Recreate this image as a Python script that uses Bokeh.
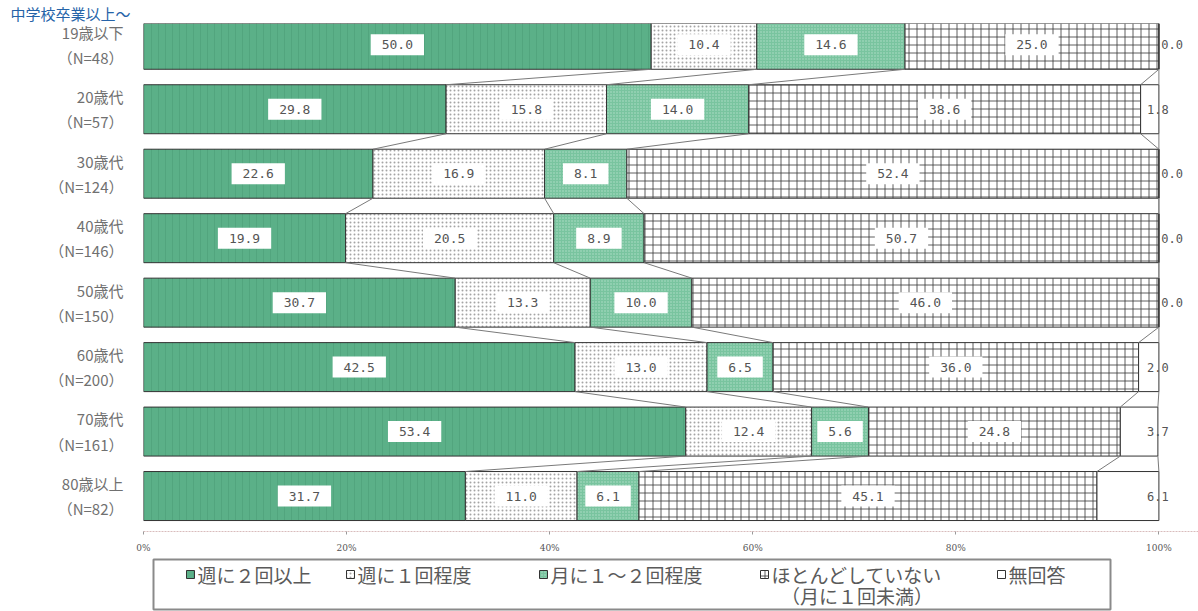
import numpy as np
import pandas as pd
from bokeh.plotting import figure
from bokeh.layouts import column
from bokeh.models import ColumnDataSource, Range1d, FixedTicker, Title
from bokeh.core.properties import value
from bokeh.embed import file_html
from bokeh.resources import INLINE

# ---------------- data ----------------
title_text = "中学校卒業以上～"
age_groups = ["19歳以下", "20歳代", "30歳代", "40歳代", "50歳代", "60歳代", "70歳代", "80歳以上"]
sample_sizes = [48, 57, 124, 146, 150, 200, 161, 82]
series_names = ["週に２回以上", "週に１回程度", "月に１～２回程度", "ほとんどしていない", "無回答"]
series_subnote = ["", "", "", "（月に１回未満）", ""]
twice_weekly = [50.0, 29.8, 22.6, 19.9, 30.7, 42.5, 53.4, 31.7]
once_weekly = [10.4, 15.8, 16.9, 20.5, 13.3, 13.0, 12.4, 11.0]
monthly = [14.6, 14.0, 8.1, 8.9, 10.0, 6.5, 5.6, 6.1]
rarely = [25.0, 38.6, 52.4, 50.7, 46.0, 36.0, 24.8, 45.1]
no_answer = [0.0, 1.8, 0.0, 0.0, 0.0, 2.0, 3.7, 6.1]
x_ticks = [0, 20, 40, 60, 80, 100]
x_tick_labels = ["0%", "20%", "40%", "60%", "80%", "100%"]

# ---------------- styles ----------------
styles = [
    dict(fill_color="#5bb088", hatch_pattern="vertical_line", hatch_color="#4c9f78",
         hatch_scale=7, hatch_weight=1, hatch_alpha=0.6),
    dict(fill_color="#ffffff", hatch_pattern="dot", hatch_color="#9a9a9a",
         hatch_scale=4, hatch_weight=1, hatch_alpha=0.9),
    dict(fill_color="#79c49f", hatch_pattern="dot", hatch_color="#d8f0e2",
         hatch_scale=3, hatch_weight=1, hatch_alpha=0.6),
    dict(fill_color="#ffffff", hatch_pattern="cross", hatch_color="#333333",
         hatch_scale=8, hatch_weight=0.8, hatch_alpha=1.0),
    dict(fill_color="#ffffff"),
]
FRAME_LEFT = 143
FRAME_W = 1055
# legend layout (page pixels)
legend_icon_x = [190, 350, 543, 764, 1001]
legend_box = dict(left=153, right=1110, top=4, bottom=54)
legend_line_y = [19, 40]

series = [twice_weekly, once_weekly, monthly, rarely, no_answer]
vals = np.array(series, dtype=float).T          # rows x series
n_rows = len(age_groups)
rows = np.arange(1, n_rows + 1)
cum_right = np.cumsum(vals, axis=1)
cum_left = cum_right - vals
bar_h = 0.76

p = figure(frame_width=FRAME_W, frame_height=508, output_backend="svg", toolbar_location=None,
           x_range=Range1d(0, 103.9), y_range=Range1d(8.55, 0.67),
           min_border_left=FRAME_LEFT, min_border_right=0, min_border_top=20, min_border_bottom=20,
           background_fill_color="white", border_fill_color="white")
p.outline_line_color = None
p.xgrid.visible = False
p.ygrid.visible = False

# title in the top-left corner
p.add_layout(Title(text=title_text, align="left", offset=-133, standoff=0,
                   text_font="Noto Sans CJK JP", text_font_size="15px",
                   text_font_style="normal", text_color="#2563a8"), "above")

for k in range(len(series)):
    src = ColumnDataSource(dict(y=rows, left=cum_left[:, k], right=cum_right[:, k]))
    p.hbar(y="y", left="left", right="right", height=bar_h, source=src,
           line_color="#333333", line_width=1, **styles[k])

# connector (series) lines between adjacent bars
x0s, y0s, x1s, y1s = [], [], [], []
for k in range(len(series)):
    for i in range(n_rows - 1):
        x0s.append(cum_right[i, k]); y0s.append(rows[i] + bar_h / 2)
        x1s.append(cum_right[i + 1, k]); y1s.append(rows[i + 1] - bar_h / 2)
p.segment(x0=x0s, y0=y0s, x1=x1s, y1=y1s, line_color="#7a7a7a", line_width=1)

# value labels with white boxes (first four series)
lx, ly, lt = [], [], []
for k in range(4):
    for i in range(n_rows):
        lx.append(cum_left[i, k] + vals[i, k] / 2)
        ly.append(rows[i])
        lt.append(f"{vals[i, k]:.1f}")
p.text(x=lx, y=ly, text=lt, text_align="center", text_baseline="middle",
       text_font=value("DejaVu Sans Mono"), text_font_size="13px", text_color="#555555",
       background_fill_color="white", padding=(11, 6))

# no-answer labels
na = vals[:, 4]
na_center = cum_left[:, 4] + na / 2
na_x = np.where(na == 0, 101.3, np.maximum(na_center, 99.9))
p.text(x=na_x, y=rows, text=[f"{v:.1f}" for v in na], text_align="center",
       text_baseline="middle", text_font=value("DejaVu Sans Mono"),
       text_font_size="12px", text_color="#555555")

# axes
p.xaxis.ticker = FixedTicker(ticks=x_ticks)
p.xaxis.major_label_overrides = {t: l for t, l in zip(x_ticks, x_tick_labels)}
p.xaxis.axis_line_color = "#d9bcbc"
p.xaxis.axis_line_dash = "2 1"
p.xaxis.major_tick_line_color = "#999999"
p.xaxis.major_tick_out = 3
p.xaxis.major_tick_in = 0
p.xaxis.minor_tick_line_color = None
p.xaxis.major_label_text_font = "DejaVu Serif"
p.xaxis.major_label_text_font_size = "9px"
p.xaxis.major_label_text_color = "#555555"
p.xaxis.major_label_standoff = 8

p.yaxis.ticker = FixedTicker(ticks=list(rows))
p.yaxis.major_label_overrides = {int(r): f"{a}\n（N={n}）"
                                 for r, a, n in zip(rows, age_groups, sample_sizes)}
p.yaxis.axis_line_color = None
p.yaxis.major_tick_line_color = None
p.yaxis.minor_tick_line_color = None
p.yaxis.major_label_text_font = "Noto Sans CJK JP"
p.yaxis.major_label_text_font_size = "15px"
p.yaxis.major_label_text_color = "#707070"
p.yaxis.major_label_standoff = 14

# ---------------- legend strip ----------------
H = 57
lg = figure(frame_width=FRAME_W, height=H, output_backend="svg", toolbar_location=None,
            x_range=Range1d(FRAME_LEFT, FRAME_LEFT + FRAME_W), y_range=Range1d(H, 0),
            min_border_left=FRAME_LEFT, min_border_right=0, min_border_top=0,
            min_border_bottom=0, background_fill_color="white", border_fill_color="white")
lg.axis.visible = False
lg.grid.visible = False
lg.outline_line_color = None
lg.quad(left=[legend_box["left"]], right=[legend_box["right"]], top=[legend_box["top"]],
        bottom=[legend_box["bottom"]], fill_color=None, line_color="#8a8a8a", line_width=2)
for k in range(len(series)):
    lg.rect(x=[legend_icon_x[k]], y=[legend_line_y[0]], width=8, height=8,
            line_color="#333333", line_width=1, **styles[k])
lg.text(x=[x + 7 for x in legend_icon_x], y=[legend_line_y[0]] * 5, text=series_names,
        text_align="left", text_baseline="middle", text_font=value("Noto Sans CJK JP"),
        text_font_size="19px", text_color="#5a5a5a")
sub_x = [legend_icon_x[k] + 7 + 9.5 * len(series_names[k]) for k in range(5) if series_subnote[k]]
lg.text(x=sub_x, y=[legend_line_y[1]] * len(sub_x), text=[s for s in series_subnote if s],
        text_align="center", text_baseline="middle", text_font=value("Noto Sans CJK JP"),
        text_font_size="19px", text_color="#5a5a5a")

layout = column(p, lg, spacing=0)
open("out.html", "w").write(file_html(layout, INLINE))
